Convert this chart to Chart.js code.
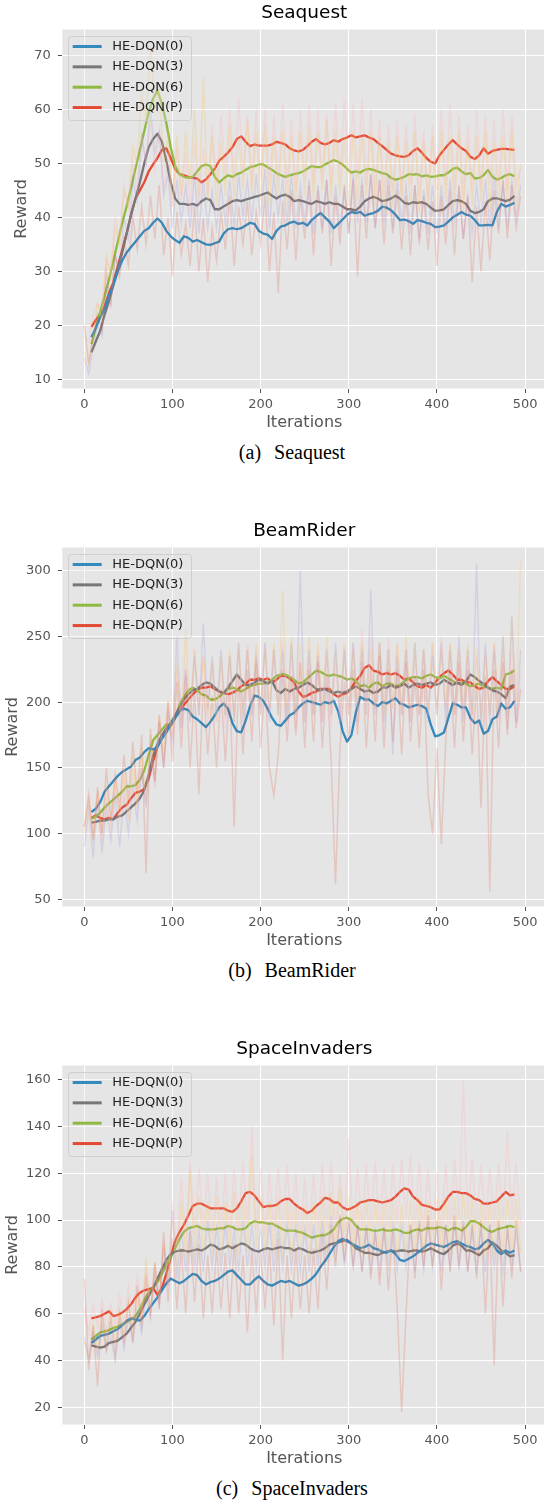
<!DOCTYPE html>
<html>
<head>
<meta charset="utf-8">
<script src="https://cdn.jsdelivr.net/npm/chart.js@4.4.0/dist/chart.umd.min.js"></script>
<style>
html, body { margin: 0; padding: 0; background: #fff; overflow: hidden; width: 544px; height: 1501px; }
.panel { position: absolute; left: 0; width: 548px; height: 440px; }
.cap { position: absolute; left: 0; width: 584px; text-align: center; font-family: "Liberation Serif", "Times New Roman", serif; font-size: 20px; line-height: 24px; color: #000; }
.cap span + span { margin-left: 13px; }
</style>
</head>
<body>
<div class="panel" style="top:0px"><canvas id="sea" width="548" height="440"></canvas></div>
<div class="cap" style="top:440px"><span>(a)</span><span>Seaquest</span></div>
<div class="panel" style="top:518px"><canvas id="beam" width="548" height="440"></canvas></div>
<div class="cap" style="top:958px"><span>(b)</span><span>BeamRider</span></div>
<div class="panel" style="top:1036px"><canvas id="inv" width="548" height="440"></canvas></div>
<div class="cap" style="top:1476px"><span>(c)</span><span>SpaceInvaders</span></div>
<script>
// series names and colours
const seriesNames = ['HE-DQN(0)', 'HE-DQN(3)', 'HE-DQN(6)', 'HE-DQN(P)'];
const lineColors = ['#348ABD', '#777777', '#8EBA42', '#E24A33'];
const rawColors = ['rgba(226,74,51,0.2)', 'rgba(152,142,213,0.22)', 'rgba(251,193,94,0.28)', 'rgba(255,181,184,0.3)'];

// iterations of the smoothed curves and of the raw episodes
const smoothIters = [
  8, 13, 18, 23, 28, 33, 38, 43, 48, 53,
  58, 63, 68, 73, 78, 83, 88, 93, 98, 103,
  108, 113, 118, 123, 128, 133, 138, 143, 148, 153,
  158, 163, 168, 173, 178, 183, 188, 193, 198, 203,
  208, 213, 218, 223, 228, 233, 238, 243, 248, 253,
  258, 263, 268, 273, 278, 283, 288, 293, 298, 303,
  308, 313, 318, 323, 328, 333, 338, 343, 348, 353,
  358, 363, 368, 373, 378, 383, 388, 393, 398, 403,
  408, 413, 418, 423, 428, 433, 438, 443, 448, 453,
  458, 463, 468, 473, 478, 483, 488];
const rawIters = [
  0, 5, 10, 15, 20, 25, 30, 35, 40, 45,
  50, 55, 60, 65, 70, 75, 80, 85, 90, 95,
  100, 105, 110, 115, 120, 125, 130, 135, 140, 145,
  150, 155, 160, 165, 170, 175, 180, 185, 190, 195,
  200, 205, 210, 215, 220, 225, 230, 235, 240, 245,
  250, 255, 260, 265, 270, 275, 280, 285, 290, 295,
  300, 305, 310, 315, 320, 325, 330, 335, 340, 345,
  350, 355, 360, 365, 370, 375, 380, 385, 390, 395,
  400, 405, 410, 415, 420, 425, 430, 435, 440, 445,
  450, 455, 460, 465, 470, 475, 480, 485, 490, 495];
const xTicks = [0, 100, 200, 300, 400, 500];

// ---- Seaquest ----
const seaTicks = [10, 20, 30, 40, 50, 60, 70];
const seaS0 = [
  17.8, 19.5, 21.5, 23, 25.5, 27.5, 30, 32, 33.5, 34.5,
  35.5, 36.5, 37.5, 38, 39, 39.8, 39, 37.5, 36.5, 35.8,
  35.3, 36.5, 36.2, 35.5, 35.8, 35.4, 35, 34.9, 35.2, 35.5,
  37, 37.8, 38, 37.8, 38, 38.5, 39, 38.8, 37.5, 37,
  36.8, 36, 37.5, 38.3, 38.5, 39, 39.2, 38.8, 39, 38.5,
  39.5, 40.2, 40.8, 40, 39.2, 38, 38.8, 39.6, 40.5, 41,
  40.8, 41, 40.3, 40.6, 40.8, 41.2, 42, 41.8, 41.3, 40.5,
  39.5, 39.6, 39.3, 38.8, 39.5, 39.3, 39, 38.8, 38.2, 38.3,
  38.5, 39.2, 40, 40.5, 41, 40.5, 40.3, 39.5, 38.5, 38.5,
  38.6, 38.5, 41, 42.5, 42, 42.3, 42.7];
const seaS3 = [
  15, 17, 19, 22, 24.5, 27.5, 30.5, 33.5, 37, 40.5,
  43.5, 46.5, 50, 53, 54.5, 55.5, 54, 50.5, 46.5, 43.5,
  42.5, 42.5, 42.3, 42.5, 42.2, 43, 43.5, 43.2, 41.5, 41.5,
  42, 42.5, 43, 43.2, 43, 43.3, 43.5, 43.8, 44, 44.3,
  44.6, 44, 43.5, 44, 44.2, 43.8, 43, 43.2, 43, 42.7,
  42.5, 43, 42.8, 42.5, 42.8, 42.5, 42.5, 42, 41.5, 41.5,
  41.3, 42, 43, 43.5, 43.8, 43.5, 43, 43.2, 43.5, 44,
  43.5, 42.7, 42.5, 42.8, 42.7, 42.8, 42.5, 41.8, 41.2, 41.3,
  41.5, 42.3, 43, 43.2, 43, 42.5, 41.2, 40.8, 41, 41.5,
  43, 43.5, 43.5, 43.3, 43, 43.3, 44];
const seaS6 = [
  16.5, 19.5, 22.5, 25.5, 28.5, 32, 35.5, 39, 42, 45.5,
  49, 52.5, 56, 59.5, 62, 63.5, 61, 57.5, 53, 49.5,
  48, 47.5, 47.3, 47.5, 48.5, 49.5, 49.8, 49.5, 47.5, 46.5,
  47.2, 47.8, 47.5, 48, 48.3, 48.8, 49.3, 49.5, 49.8, 49.8,
  49.3, 48.8, 48.2, 47.8, 47.5, 47.8, 48, 48.2, 48.5, 49,
  49.5, 49.3, 49.3, 49.8, 50.2, 50.6, 50.3, 49.8, 49, 48.3,
  48.5, 48.3, 48.8, 49, 48.8, 48.5, 48.2, 48, 47.3, 47,
  47.2, 47.5, 48, 47.9, 48, 47.6, 47.8, 47.5, 47.6, 47.8,
  47.8, 48.3, 49, 49.2, 48.5, 48, 48.2, 47.2, 47.3, 47.8,
  48.8, 47.5, 47, 47.3, 47.8, 48, 47.6];
const seaSP = [
  19.7, 21, 22, 23.5, 26, 28, 31, 34, 37, 40.5,
  43.5, 45, 46.5, 48.5, 49.8, 51, 52.5, 52.8, 51, 49,
  48, 47.8, 47.5, 47.3, 47.2, 46.5, 47, 48, 49, 50.5,
  51.2, 52, 53, 54.5, 55, 54, 53.2, 53.5, 53.3, 53.3,
  53.3, 53.5, 54, 53.8, 53.5, 52.8, 52.4, 52.2, 52.5, 53.2,
  54, 54.5, 53.8, 53.5, 53.8, 54.3, 54, 54.5, 54.8, 55.2,
  54.8, 55, 55.2, 54.8, 54.5, 53.8, 53.2, 52.5, 51.8, 51.5,
  51.3, 51.2, 51.5, 52.3, 52.8, 52, 51, 50.3, 50, 51.5,
  52.5, 53.5, 54.3, 53.5, 52.8, 52.3, 51.2, 50.8, 51.5, 52.8,
  51.8, 52.3, 52.5, 52.7, 52.7, 52.6, 52.5];
const seaR0 = [
  20, 13, 18, 22, 19, 30, 24, 33, 29, 36,
  31, 40, 34, 42, 35, 44, 36, 46, 33, 40,
  29, 41, 33, 39, 31, 42, 30, 40, 28, 38,
  32, 41, 34, 44, 31, 42, 35, 43, 33, 41,
  35, 44, 30, 41, 26, 43, 34, 45, 32, 44,
  36, 46, 33, 45, 37, 47, 31, 44, 35, 46,
  37, 47, 29, 46, 36, 48, 38, 47, 35, 46,
  37, 45, 34, 44, 33, 46, 35, 44, 34, 43,
  31, 44, 35, 45, 33, 46, 36, 44, 28, 42,
  30, 43, 32, 45, 37, 47, 36, 46, 38, 44];
const seaR3 = [
  14, 11, 16, 20, 18, 27, 24, 33, 30, 40,
  36, 47, 43, 55, 50, 60, 52, 56, 44, 48,
  38, 47, 39, 46, 38, 48, 37, 47, 38, 45,
  38, 46, 39, 47, 38, 48, 40, 47, 39, 48,
  40, 49, 38, 48, 40, 47, 39, 48, 38, 46,
  39, 47, 37, 46, 38, 47, 37, 46, 38, 45,
  37, 48, 39, 47, 39, 48, 38, 47, 39, 48,
  38, 47, 39, 46, 37, 46, 36, 45, 37, 46,
  37, 46, 38, 47, 39, 45, 36, 44, 37, 46,
  39, 47, 38, 48, 39, 46, 38, 47, 40, 46];
const seaR6 = [
  15, 13, 18, 24, 21, 33, 29, 38, 35, 45,
  42, 53, 50, 63, 58, 72, 60, 64, 50, 55,
  42, 55, 44, 56, 46, 60, 44, 66, 43, 55,
  42, 54, 44, 57, 43, 55, 45, 58, 44, 56,
  43, 57, 42, 55, 44, 56, 42, 55, 43, 56,
  44, 57, 43, 56, 45, 58, 43, 56, 44, 55,
  42, 56, 43, 55, 44, 56, 42, 55, 41, 54,
  42, 55, 43, 54, 42, 56, 41, 54, 42, 55,
  41, 56, 43, 55, 42, 56, 41, 54, 42, 55,
  43, 56, 41, 54, 42, 55, 43, 56, 42, 50];
const seaRP = [
  18, 17, 22, 24, 23, 32, 30, 40, 36, 46,
  42, 50, 45, 55, 50, 58, 49, 56, 45, 52,
  42, 53, 43, 52, 41, 54, 42, 53, 44, 57,
  46, 59, 48, 60, 47, 62, 48, 59, 46, 60,
  47, 60, 46, 59, 47, 61, 46, 58, 45, 60,
  47, 61, 46, 60, 47, 59, 46, 61, 47, 62,
  48, 61, 47, 62, 46, 60, 45, 58, 44, 57,
  45, 58, 44, 57, 46, 59, 44, 56, 43, 57,
  45, 60, 46, 61, 45, 59, 44, 57, 45, 60,
  45, 59, 46, 58, 46, 60, 45, 59, 46, 49];

// ---- BeamRider ----
const beamTicks = [50, 100, 150, 200, 250, 300];
const beamS0 = [
  116.5, 119, 124, 132, 136, 140, 144, 147, 149, 151,
  156, 158, 162, 165, 164, 166, 172, 177, 183, 188,
  193, 195, 194, 189, 187, 184, 181, 185, 190, 196,
  199, 195, 184, 178, 177, 186, 197, 205, 204, 201,
  195, 188, 183, 182, 186, 190, 192, 196, 199, 201,
  200, 199, 198, 200, 199, 201, 193, 178, 170, 175,
  192, 204, 202, 202, 199, 197, 200, 199, 201, 203,
  199, 198, 196, 197, 198, 197, 195, 183, 174, 175,
  177, 188, 199, 198, 196, 196, 188, 184, 186, 176,
  178, 187, 189, 199, 195, 196, 201];
const beamS3 = [
  108.5, 109, 110, 110, 111, 111, 113, 114, 117, 120,
  123, 127, 133, 145, 159, 168, 175, 180, 184, 190,
  196, 202, 206, 209, 210, 213, 215, 214, 211, 208,
  207, 211, 216, 221, 217, 213, 213, 215, 217, 216,
  214, 216, 209, 207, 210, 208, 210, 211, 213, 215,
  213, 210, 209, 210, 208, 207, 208, 207, 208, 210,
  212, 210, 208, 209, 207, 208, 211, 211, 213, 211,
  212, 214, 211, 213, 214, 213, 214, 215, 213, 214,
  217, 215, 213, 215, 213, 216, 221, 219, 216, 214,
  211, 209, 208, 206, 203, 212, 213];
const beamS6 = [
  111.5, 113, 116, 120, 123, 126, 129, 132, 136, 136,
  137, 141, 148, 160, 171, 175, 179, 183, 183, 188,
  198, 204, 209, 211, 209, 206, 205, 202, 202, 204,
  207, 210, 211, 210, 208, 210, 212, 213, 214, 214,
  215, 217, 220, 221, 221, 219, 217, 214, 215, 218,
  221, 224, 223, 221, 220, 221, 220, 219, 217, 218,
  216, 212, 213, 211, 214, 215, 212, 214, 214, 212,
  213, 216, 218, 219, 219, 218, 220, 221, 219, 218,
  220, 218, 216, 214, 215, 214, 212, 213, 214, 212,
  211, 210, 211, 210, 221, 222, 224];
const beamSP = [
  112, 114, 112, 111, 112, 111, 116, 120, 122, 127,
  131, 132, 134, 142, 155, 166, 173, 178, 182, 188,
  193, 198, 202, 206, 209, 211, 211, 212, 210, 208,
  207, 206, 207, 209, 212, 214, 217, 217, 218, 217,
  218, 215, 217, 220, 220, 218, 215, 208, 204, 205,
  207, 208, 210, 210, 210, 206, 204, 206, 207, 211,
  216, 220, 226, 228, 224, 223, 221, 222, 221, 222,
  220, 217, 218, 215, 212, 211, 213, 211, 215, 219,
  222, 224, 221, 217, 217, 215, 215, 212, 210, 211,
  216, 219, 216, 213, 210, 210, 212];
const beamR0 = [
  105, 130, 95, 135, 100, 150, 110, 145, 120, 160,
  125, 170, 130, 175, 70, 180, 140, 190, 150, 200,
  155, 215, 165, 220, 150, 210, 130, 215, 160, 205,
  150, 210, 155, 215, 105, 220, 160, 225, 170, 230,
  165, 215, 150, 129, 160, 225, 170, 220, 175, 230,
  165, 225, 170, 230, 165, 220, 155, 62, 165, 215,
  170, 225, 175, 230, 165, 225, 170, 235, 165, 225,
  170, 225, 160, 230, 170, 220, 165, 225, 130, 100,
  165, 92, 170, 225, 165, 230, 170, 225, 160, 215,
  120, 220, 56, 225, 165, 230, 175, 225, 180, 210];
const beamR3 = [
  90, 118, 82, 125, 85, 120, 95, 130, 90, 128,
  100, 135, 110, 150, 120, 165, 140, 185, 150, 190,
  170, 250, 180, 225, 185, 235, 190, 260, 195, 235,
  190, 240, 190, 235, 185, 245, 185, 240, 190, 235,
  190, 245, 185, 240, 190, 240, 185, 245, 190, 300,
  185, 240, 190, 235, 185, 240, 190, 245, 185, 240,
  190, 245, 185, 240, 190, 285, 190, 245, 185, 240,
  160, 235, 190, 240, 185, 245, 190, 240, 185, 235,
  190, 245, 185, 240, 190, 250, 185, 240, 190, 305,
  180, 245, 185, 240, 190, 250, 180, 265, 185, 240];
const beamR6 = [
  100, 125, 95, 130, 100, 135, 110, 140, 115, 150,
  110, 160, 120, 165, 125, 175, 140, 190, 160, 200,
  175, 230, 185, 255, 190, 240, 195, 235, 190, 230,
  185, 235, 190, 240, 185, 245, 190, 240, 195, 245,
  190, 240, 195, 245, 190, 285, 195, 250, 190, 245,
  195, 250, 190, 245, 195, 250, 190, 240, 195, 245,
  190, 240, 195, 245, 190, 240, 195, 245, 190, 240,
  195, 245, 190, 250, 195, 245, 190, 240, 195, 245,
  190, 240, 195, 245, 190, 240, 195, 245, 190, 240,
  185, 235, 190, 245, 195, 250, 190, 265, 200, 307];
const beamRP = [
  105, 125, 100, 130, 95, 125, 105, 135, 110, 140,
  115, 145, 120, 150, 125, 160, 135, 185, 155, 195,
  170, 225, 180, 230, 185, 240, 190, 235, 185, 230,
  185, 230, 180, 235, 190, 240, 195, 245, 190, 240,
  195, 245, 190, 240, 195, 245, 190, 235, 180, 230,
  185, 235, 190, 240, 185, 235, 180, 230, 185, 240,
  195, 245, 200, 255, 200, 250, 195, 245, 200, 250,
  195, 245, 190, 240, 185, 235, 190, 240, 190, 245,
  195, 250, 195, 245, 190, 240, 190, 235, 185, 235,
  190, 240, 190, 245, 185, 235, 190, 240, 185, 225];

// ---- SpaceInvaders ----
const invTicks = [20, 40, 60, 80, 100, 120, 140, 160];
const invS0 = [
  47.5, 49, 50.5, 51, 51.5, 52.5, 53.5, 55, 57, 58,
  57.5, 57, 59, 62, 64.5, 67, 70, 73, 75, 74,
  73, 74, 75.5, 77, 76.5, 74, 72.5, 73.5, 74, 75,
  76.5, 78, 78.5, 76.5, 74.5, 72.5, 72.5, 74.5, 76, 74,
  72.5, 72, 73, 74, 73.5, 74, 73, 72, 72.5, 73.5,
  75, 77, 80, 82.5, 85.5, 88.5, 91, 92, 91, 90,
  89, 88, 88.5, 89.5, 88, 87.5, 86.5, 86, 87, 85.5,
  83, 82.5, 83.5, 84.5, 86, 87.5, 89, 90, 89.5, 89,
  88.5, 89.5, 90.5, 91, 90, 89, 88.5, 87.5, 88, 90,
  91.5, 90, 87, 85.5, 87, 86, 87];
const invS3 = [
  46.5, 46, 45.5, 46, 47.5, 48, 48.5, 50, 51.5, 54,
  56.5, 60, 64, 67.5, 71, 75, 79, 83, 85.5, 86.5,
  87, 87, 86.5, 87, 87.5, 87, 88, 89.5, 89, 87.5,
  88, 89, 88, 89, 90, 89.5, 88, 87, 86.5, 87.5,
  88, 87.5, 88, 88.5, 88, 88, 87, 88, 87.5, 86.5,
  86, 86.5, 87, 88, 89.5, 90, 90.5, 91, 91.5, 90,
  88, 87, 86, 86, 85.5, 85, 86, 86.5, 87, 86.5,
  87, 87, 86.5, 87, 87, 86.5, 87, 88, 87, 86,
  85.5, 87, 89, 90, 89, 87, 87, 86, 85, 87,
  88, 90.5, 89, 87, 86, 84.5, 85];
const invS6 = [
  49, 50.5, 52, 52.5, 53, 54, 54.5, 55.5, 56.5, 57.5,
  59, 62, 66, 69, 71, 73.5, 77, 81, 84, 88,
  92, 95, 96.5, 97, 97.5, 96.5, 96, 96, 96, 96.5,
  96.5, 97.5, 97, 96, 96, 96.5, 98.5, 99.5, 99, 99,
  98.5, 98.5, 97.5, 96.5, 95.5, 95.5, 95.5, 95, 94.5, 93.5,
  92.5, 93, 93.5, 93.5, 94.5, 96, 99, 100.5, 101, 100,
  97.5, 96, 96, 96, 95.5, 95.5, 96, 95.5, 95.5, 96,
  95.5, 94.5, 94.5, 95.5, 96, 95.5, 96.5, 96.5, 96.5, 97,
  96.5, 95.5, 96.5, 96.5, 95.5, 97, 99.5, 99.5, 98.5, 97,
  95.5, 95, 96, 96.5, 97, 97.5, 97];
const invSP = [
  58, 58.5, 59, 60, 61, 59, 59.5, 60.5, 62, 64,
  67, 69, 70, 70.5, 71, 68, 71, 77, 84, 91,
  95, 98, 102, 106, 107, 107, 106, 105, 105, 105,
  105, 104, 103.5, 105, 108, 111.5, 112, 110.5, 108, 105.5,
  106, 106, 106.5, 108, 109, 109, 107, 105.5, 104.5, 103,
  104, 106, 107.5, 109.5, 109, 107.5, 107.5, 105.5, 104.5, 105,
  106, 107.5, 108, 108.5, 108.5, 108, 107.5, 108, 108.5, 110,
  112, 113.5, 113, 110, 108.5, 106.5, 106, 105.5, 104.5, 104.5,
  107, 110, 112, 112, 111.5, 111.5, 110.5, 109, 108.5, 107,
  107, 107.5, 108, 110, 112, 110.5, 111];
const invR0 = [
  75, 36, 55, 29, 62, 45, 58, 42, 60, 48,
  65, 48, 72, 55, 75, 60, 82, 62, 95, 65,
  92, 62, 88, 60, 95, 65, 90, 58, 85, 60,
  88, 62, 86, 58, 90, 60, 85, 52, 88, 60,
  86, 62, 88, 55, 92, 40, 85, 58, 88, 62,
  85, 60, 88, 62, 95, 70, 98, 80, 102, 82,
  100, 80, 98, 78, 96, 75, 95, 72, 97, 70,
  95, 62, 18, 60, 98, 75, 100, 80, 102, 80,
  100, 70, 98, 78, 102, 80, 100, 78, 98, 75,
  100, 60, 98, 38, 100, 63, 98, 75, 100, 78];
const invR3 = [
  50, 40, 52, 42, 55, 44, 50, 40, 56, 45,
  58, 48, 62, 52, 68, 58, 76, 64, 88, 72,
  104, 75, 96, 78, 98, 80, 96, 78, 100, 80,
  97, 79, 98, 80, 96, 78, 100, 80, 98, 79,
  97, 80, 99, 78, 97, 80, 98, 79, 97, 78,
  96, 78, 98, 80, 100, 82, 102, 84, 100, 82,
  98, 80, 97, 78, 98, 79, 96, 78, 97, 80,
  98, 79, 97, 80, 98, 78, 97, 79, 98, 80,
  97, 78, 98, 80, 99, 80, 98, 78, 97, 79,
  96, 78, 98, 80, 97, 78, 96, 80, 95, 78];
const invR6 = [
  48, 42, 56, 44, 58, 46, 60, 48, 62, 50,
  64, 52, 68, 56, 84, 60, 80, 66, 90, 74,
  100, 80, 108, 84, 121, 85, 110, 86, 108, 85,
  110, 84, 108, 86, 112, 85, 110, 86, 128, 88,
  110, 86, 108, 85, 110, 84, 108, 83, 106, 84,
  106, 82, 108, 84, 110, 86, 112, 88, 114, 87,
  110, 86, 108, 85, 109, 84, 108, 85, 108, 86,
  108, 84, 107, 85, 108, 86, 110, 85, 108, 86,
  109, 86, 110, 85, 110, 87, 112, 86, 110, 85,
  108, 84, 107, 85, 109, 86, 110, 87, 109, 86];
const invRP = [
  62, 52, 64, 54, 66, 52, 64, 55, 68, 56,
  72, 58, 76, 60, 78, 62, 80, 64, 92, 72,
  108, 88, 118, 92, 125, 94, 122, 95, 120, 94,
  118, 95, 120, 94, 122, 96, 125, 98, 140, 96,
  122, 94, 120, 95, 122, 96, 124, 95, 120, 93,
  118, 92, 120, 95, 124, 97, 125, 96, 120, 95,
  135, 94, 122, 96, 124, 97, 125, 96, 122, 97,
  124, 98, 126, 100, 128, 97, 125, 95, 122, 94,
  120, 94, 124, 98, 126, 100, 160, 99, 126, 97,
  124, 96, 122, 97, 124, 98, 138, 99, 125, 98];

Chart.defaults.font.family = '"DejaVu Sans", sans-serif';

// grey plotting area
const bgPlugin = {
  id: 'bg',
  beforeDraw(chart) {
    const { ctx, chartArea: a } = chart;
    ctx.save();
    ctx.fillStyle = '#E5E5E5';
    ctx.fillRect(a.left, a.top, a.right - a.left, a.bottom - a.top);
    ctx.restore();
  }
};

// axes title centred on the plot and boxed legend in the upper left
const boxPlugin = {
  id: 'boxLegend',
  afterDatasetsDraw(chart, args, opts) {
    const { ctx, chartArea: a } = chart;
    ctx.save();
    ctx.font = '18.5px "DejaVu Sans"';
    ctx.fillStyle = '#000';
    ctx.textAlign = 'center';
    ctx.textBaseline = 'middle';
    ctx.fillText(opts.title, (a.left + a.right) / 2, a.top - 16);

    const x0 = Math.round(a.left + 6) + 0.5, y0 = Math.round(a.top + 6.7) + 0.5;
    ctx.beginPath();
    ctx.roundRect(x0, y0, 123, 84, 3);
    ctx.fillStyle = 'rgba(229,229,229,0.3)';
    ctx.fill();
    ctx.strokeStyle = 'rgba(204,204,204,0.9)';
    ctx.lineWidth = 1;
    ctx.stroke();

    const items = chart.data.datasets.filter(d => d.label);
    items.forEach((d, i) => {
      const y = a.top + 17 + i * 20.35;
      ctx.beginPath();
      ctx.moveTo(a.left + 10.4, y);
      ctx.lineTo(a.left + 39.4, y);
      ctx.strokeStyle = d.borderColor;
      ctx.lineWidth = 3;
      ctx.stroke();
      ctx.fillStyle = '#222';
      ctx.font = '13px "DejaVu Sans"';
      ctx.textAlign = 'left';
      ctx.fillText(d.label, a.left + 50, y);
    });
    ctx.restore();
  }
};

function pts(xs, ys) {
  return xs.map((x, i) => ({ x: x, y: ys[i] }));
}

function makeChart(id, title, yMin, yMax, yTicks, smooth, raw, yTitlePad) {
  const datasets = [];
  raw.forEach((r, i) => datasets.push({
    data: pts(rawIters, r),
    borderColor: rawColors[i],
    borderWidth: 1.5,
    pointRadius: 0,
    fill: false,
    tension: 0
  }));
  smooth.forEach((s, i) => datasets.push({
    label: seriesNames[i],
    data: pts(smoothIters, s),
    borderColor: lineColors[i],
    borderWidth: 2.3,
    borderJoinStyle: 'round',
    pointRadius: 0,
    fill: false,
    tension: 0
  }));

  return new Chart(document.getElementById(id), {
    type: 'line',
    data: { datasets: datasets },
    plugins: [bgPlugin, boxPlugin],
    options: {
      responsive: false,
      animation: false,
      events: [],
      parsing: false,
      layout: { autoPadding: false, padding: { top: 29.5, left: 0, right: 1.8, bottom: 7.4 } },
      plugins: {
        legend: { display: false },
        tooltip: { enabled: false },
        title: { display: false },
        boxLegend: { title: title }
      },
      scales: {
        x: {
          type: 'linear',
          min: -25,
          max: 524,
          afterBuildTicks: s => { s.ticks = xTicks.map(v => ({ value: v })); },
          afterFit: s => { s.height = 44.1; },
          border: { display: false },
          grid: { color: '#ffffff', lineWidth: 1, drawTicks: true, tickLength: 4.5, tickColor: '#555555', tickWidth: 1 },
          ticks: { color: '#555555', font: { size: 13 }, padding: 3.5, maxRotation: 0, autoSkip: false },
          title: { display: true, text: 'Iterations', color: '#555555', font: { size: 16 }, padding: { top: 0, bottom: 0 } }
        },
        y: {
          type: 'linear',
          min: yMin,
          max: yMax,
          afterBuildTicks: s => { s.ticks = yTicks.map(v => ({ value: v })); },
          afterFit: s => { s.width = 62.3; },
          border: { display: false },
          grid: { color: '#ffffff', lineWidth: 1, drawTicks: true, tickLength: 4.5, tickColor: '#555555', tickWidth: 1 },
          ticks: { color: '#555555', font: { size: 13 }, padding: 7, autoSkip: false },
          title: { display: true, text: 'Reward', color: '#555555', font: { size: 16 }, padding: { top: yTitlePad, bottom: 0 } }
        }
      }
    }
  });
}

makeChart('sea', 'Seaquest', 8.3, 74.8, seaTicks,
  [seaS0, seaS3, seaS6, seaSP], [seaR0, seaR3, seaR6, seaRP], 12.5);
makeChart('beam', 'BeamRider', 44.7, 317.5, beamTicks,
  [beamS0, beamS3, beamS6, beamSP], [beamR0, beamR3, beamR6, beamRP], 3);
makeChart('inv', 'SpaceInvaders', 12.7, 166, invTicks,
  [invS0, invS3, invS6, invSP], [invR0, invR3, invR6, invRP], 3);
</script>
</body>
</html>
